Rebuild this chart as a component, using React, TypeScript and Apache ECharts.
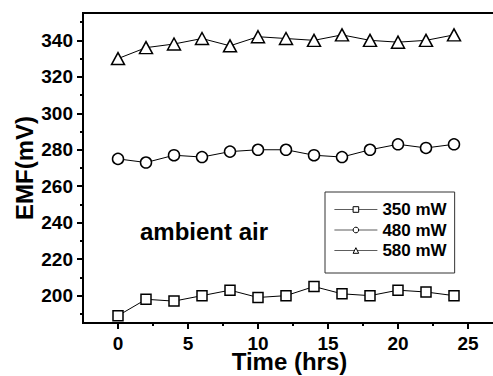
import React, { useEffect, useRef } from "react";
import * as echarts from "echarts";

const hours = [0, 2, 4, 6, 8, 10, 12, 14, 16, 18, 20, 22, 24];
const emf350 = [189, 198, 197, 200, 203, 199, 200, 205, 201, 200, 203, 202, 200];
const emf480 = [275, 273, 277, 276, 279, 280, 280, 277, 276, 280, 283, 281, 283];
const emf580 = [330, 336, 338, 341, 337, 342, 341, 340, 343, 340, 339, 340, 343];
const yMajorTicks = [200, 220, 240, 260, 280, 300, 320, 340];
const yMinorTicks = [190, 210, 230, 250, 270, 290, 310, 330, 350];
const xMajorTicks = [0, 5, 10, 15, 20, 25];
const xMinorTicks = [2.5, 7.5, 12.5, 17.5, 22.5];

const FONT = "Liberation Sans, Arial, sans-serif";

export default function App() {
  const ref = useRef<HTMLDivElement>(null);
  useEffect(() => {
    if (!ref.current) return;
    const chart = echarts.init(ref.current, null, { renderer: "svg" });
    const mk = (name: string, data: number[], symbol: string, size: any) => ({
      name,
      type: "line",
      xAxisIndex: 0,
      yAxisIndex: 0,
      data: hours.map((h, i) => [h, data[i]]),
      symbol,
      symbolSize: size,
      showAllSymbol: true,
      lineStyle: { color: "#000", width: 1 },
      itemStyle: { color: "#fff", borderColor: "#000", borderWidth: 1.5 },
      emphasis: { disabled: true },
    });
    chart.setOption({
      animation: false,
      textStyle: { fontFamily: FONT },
      grid: {
        left: 83,
        top: 13,
        right: -3,
        bottom: 53,
        outerBoundsMode: "none",
        containLabel: false,
        show: true,
        borderColor: "#000",
        borderWidth: 2,
        backgroundColor: "transparent",
      },
      legend: {
        left: 325,
        top: 192,
        orient: "vertical",
        data: ["350 mW", "480 mW", "580 mW"],
        itemWidth: 43,
        itemHeight: 7,
        itemGap: 3.5,
        padding: [9, 8, 14, 9],
        borderColor: "#333",
        borderWidth: 1,
        backgroundColor: "#fff",
        itemStyle: { borderWidth: 1 },
        lineStyle: { width: 0.8, color: "#333" },
        textStyle: { fontFamily: FONT, fontWeight: "bold", fontSize: 17, color: "#000", lineHeight: 16 },
        inactiveColor: "#000",
      },
      xAxis: [
        {
          type: "value",
          min: -2.5,
          max: 27,
          position: "bottom",
          name: "Time (hrs)",
          nameLocation: "middle",
          nameGap: 26,
          nameMoveOverlap: false,
          nameTextStyle: { fontFamily: FONT, fontWeight: "bold", fontSize: 24, color: "#000" },
          axisLine: { show: true, onZero: false, lineStyle: { color: "#000", width: 2 } },
          axisTick: { show: true, customValues: xMajorTicks, length: 6, inside: false, lineStyle: { color: "#000", width: 2 } },
          axisLabel: { customValues: xMajorTicks, margin: 11, fontFamily: FONT, fontWeight: "bold", fontSize: 19, color: "#000" },
          splitLine: { show: false },
        },
        {
          type: "value",
          min: -2.5,
          max: 27,
          position: "bottom",
          offset: 0,
          axisLine: { show: false, onZero: false },
          axisTick: { show: true, customValues: xMinorTicks, length: 3, lineStyle: { color: "#000", width: 2 } },
          axisLabel: { show: false },
          splitLine: { show: false },
        },
      ],
      yAxis: [
        {
          type: "value",
          min: 185,
          max: 355,
          position: "left",
          name: "EMF(mV)",
          nameLocation: "middle",
          nameGap: 47,
          nameMoveOverlap: false,
          nameTextStyle: { fontFamily: FONT, fontWeight: "bold", fontSize: 24, color: "#000" },
          axisLine: { show: true, onZero: false, lineStyle: { color: "#000", width: 2 } },
          axisTick: { show: true, customValues: yMajorTicks, length: 6, lineStyle: { color: "#000", width: 2 } },
          axisLabel: { customValues: yMajorTicks, margin: 10, fontFamily: FONT, fontWeight: "bold", fontSize: 19, color: "#000" },
          splitLine: { show: false },
        },
        {
          type: "value",
          min: 185,
          max: 355,
          position: "left",
          offset: 0,
          axisLine: { show: false, onZero: false },
          axisTick: { show: true, customValues: yMinorTicks, length: 3, lineStyle: { color: "#000", width: 2 } },
          axisLabel: { show: false },
          splitLine: { show: false },
        },
      ],
      graphic: [
        {
          type: "text",
          left: 140,
          top: 219,
          style: {
            text: "ambient air",
            fontFamily: FONT,
            fontWeight: "bold",
            fontSize: 24,
            fill: "#000",
          },
        },
      ],
      series: [
        mk("350 mW", emf350, "rect", 10),
        mk("480 mW", emf480, "circle", 11),
        mk("580 mW", emf580, "triangle", [13, 12]),
      ],
    });
    return () => chart.dispose();
  }, []);
  return <div ref={ref} style={{ width: 493, height: 376, position: "absolute", left: 0, top: 0 }} />;
}
